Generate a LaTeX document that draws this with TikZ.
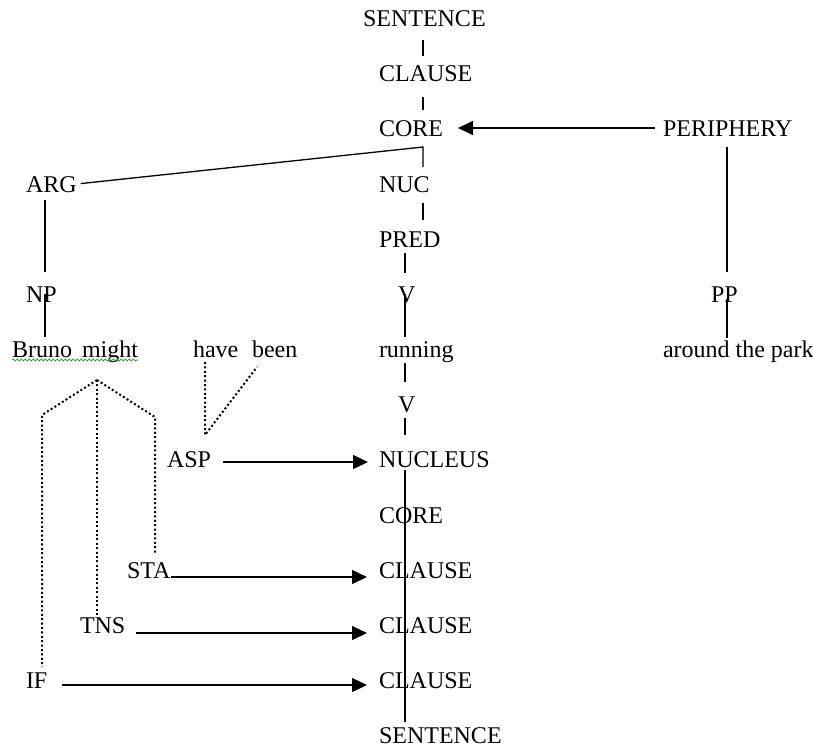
\documentclass[tikz,border=0pt]{standalone}
\usepackage{fontspec}
\setmainfont{Liberation Serif}
\usetikzlibrary{arrows.meta,decorations.pathmorphing,calc}
\begin{document}
\begin{tikzpicture}[x=0.5pt,y=-0.5pt,
  lbl/.style={anchor=base west,inner sep=0pt,outer sep=0pt,text height=8pt,text depth=0pt,font=\fontsize{12pt}{14pt}\selectfont},
  edge/.style={line width=0.65pt},
  dots/.style={line width=1pt,dash pattern=on 1pt off 1.2pt},
  arr/.style={line width=0.65pt,-{Triangle[length=7.5pt,width=7pt]}},
  squiggle/.style={green!55!black!75,line width=0.5pt,decorate,decoration={snake,amplitude=0.5pt,segment length=2pt}}]
\useasboundingbox (0,0) rectangle (813,746);
% nodes
\node[lbl] (s1) at (363,26) {SENTENCE};
\node[lbl] (c1) at (379,81) {CLAUSE};
\node[lbl] (core1) at (379,136) {CORE};
\node[lbl] (per) at (663,136) {PERIPHERY};
\node[lbl] (arg) at (26,192) {ARG};
\node[lbl] (nuc) at (379,192) {NUC};
\node[lbl] (pred) at (379,247) {PRED};
\node[lbl] (np) at (26,302) {NP};
\node[lbl] (v1) at (398,302) {V};
\node[lbl] (pp) at (711,302) {PP};
\node[lbl] (bruno) at (12,357) {Bruno};
\node[lbl] (might) at (82,357) {might};
\node[lbl] (have) at (193,357) {have};
\node[lbl] (been) at (252,357) {been};
\node[lbl] (run) at (379,357) {running};
\node[lbl] (park) at (663,357) {around the park};
\node[lbl] (v2) at (398,412) {V};
\node[lbl] (asp) at (167,467) {ASP};
\node[lbl] (nucleus) at (379,467) {NUCLEUS};
\node[lbl] (core2) at (379,523) {CORE};
\node[lbl] (sta) at (127,578) {STA};
\node[lbl] (c2) at (379,578) {CLAUSE};
\node[lbl] (tns) at (80,633) {TNS};
\node[lbl] (c3) at (379,633) {CLAUSE};
\node[lbl] (if) at (26,688) {IF};
\node[lbl] (c4) at (379,688) {CLAUSE};
\node[lbl] (s2) at (379,743) {SENTENCE};
% helper coordinates
\coordinate (xa) at (423,0);
\coordinate (xb) at (405,0);
\coordinate (xc) at (45,0);
\coordinate (xd) at (727,0);
\coordinate (k1) at (423,147);
\coordinate (ap) at (97,380);
\coordinate (apL) at (42,415);
\coordinate (apR) at (155,417);
\coordinate (hv) at (205,435);
\coordinate (hvb) at (257,367);
% solid connectors
\draw[edge,shorten <=7pt,shorten >=4.5pt] (s1.south -| xa) -- (c1.north -| xa);
\draw[edge,shorten <=8pt,shorten >=5pt] (c1.south -| xa) -- (core1.north -| xa);
\draw[edge,shorten <=2pt,shorten >=4.5pt] (arg.east) -- (k1) -- (nuc.north -| k1);
\draw[edge,shorten <=5.5pt,shorten >=5.5pt] (nuc.south -| xa) -- (pred.north -| xa);
\draw[edge,shorten <=3pt,shorten >=6.5pt] (pred.south -| xb) -- (v1.north -| xb);
\draw[edge,shorten >=2pt] (v1.center -| xb) -- (run.north -| xb);
\draw[edge,shorten <=3pt,shorten >=7pt] (run.south -| xb) -- (v2.north -| xb);
\draw[edge,shorten <=3pt,shorten >=8pt] (v2.south -| xb) -- (nucleus.north -| xb);
\draw[edge,shorten <=1.5pt,shorten >=2.5pt] (nucleus.south -| xb) -- (s2.north -| xb);
\draw[edge,shorten <=4pt,shorten >=7pt] (arg.south -| xc) -- (np.north -| xc);
\draw[edge,shorten >=2pt] (np.center -| xc) -- (bruno.north -| xc);
\draw[arr,shorten <=4pt,shorten >=7.5pt] (per.west) -- (core1.east);
\draw[edge,shorten <=5.5pt,shorten >=7pt] (per.south -| xd) -- (pp.north -| xd);
\draw[edge,shorten <=2.5pt,shorten >=1.5pt] (pp.center -| xd) -- (park.north -| xd);
% dotted connectors
\draw[dots,shorten <=2.5pt] (have.south -| hv) -- (hv) -- (hvb);
\draw[dots,shorten >=2.5pt] (ap) -- (apL) -- (if.north -| apL);
\draw[dots] (ap) -- (tns.north -| ap);
\draw[dots,shorten >=4.5pt] (ap) -- (apR) -- (sta.north -| apR);
% arrows
\draw[arr,shorten <=6pt,shorten >=5.5pt] ([yshift=-1.5pt]asp.east) -- ([yshift=-1.5pt]nucleus.west);
\draw[arr,shorten <=0.5pt,shorten >=6pt] ([yshift=-3.5pt]sta.east) -- ([yshift=-3.5pt]c2.west);
\draw[arr,shorten <=5.5pt,shorten >=6pt] ([yshift=-4pt]tns.east) -- ([yshift=-4pt]c3.west);
\draw[arr,shorten <=7.5pt,shorten >=6pt] ([yshift=-2.5pt]if.east) -- ([yshift=-2.5pt]c4.west);
% spell-check squiggle
\draw[squiggle] ([yshift=-1.5pt]bruno.south west) -- ([yshift=-1.5pt]might.south east);
\end{tikzpicture}
\end{document}
